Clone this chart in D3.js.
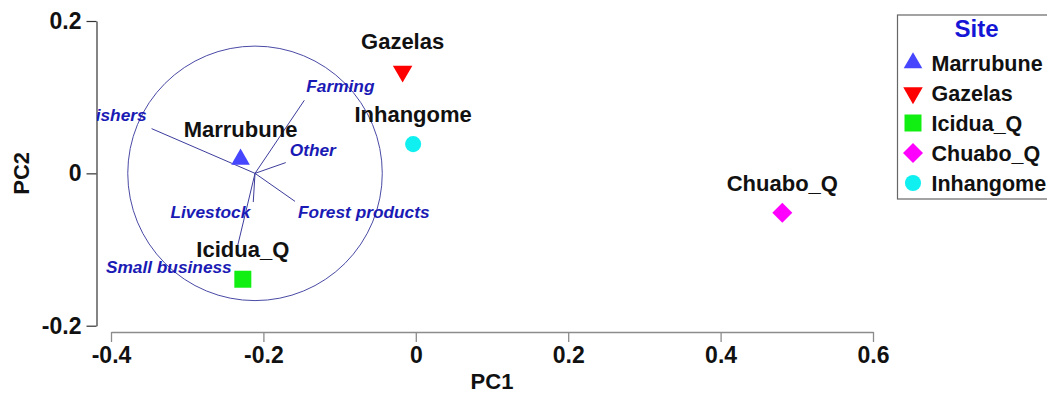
<!DOCTYPE html>
<html>
<head>
<meta charset="utf-8">
<script src="https://cdn.jsdelivr.net/npm/d3@7"></script>
<style>
  body { margin: 0; background: #fff; }
  svg { display: block; font-family: "Liberation Sans", Arial, sans-serif; }
</style>
</head>
<body>
<div id="chart"></div>
<script>
// site scores
const sites = ["Marrubune", "Gazelas", "Icidua_Q", "Chuabo_Q", "Inhangome"];
const sitePC1 = [-0.23, -0.0173, -0.227, 0.481, -0.0035];
const sitePC2 = [0.0184, 0.134, -0.139, -0.0516, 0.0384];

// livelihood vectors, drawn from the circle centre
const variables = ["Fishers", "Farming", "Other", "Forest products", "Livestock", "Small business"];
const loadPC1 = [-0.1357, 0.0647, 0.0403, 0.0525, -0.0023, -0.0227];
const loadPC2 = [0.0587, 0.0959, 0.0141, -0.0368, -0.0377, -0.0946];
const circleCentre = [-0.211, 0];
const circleRadius = 0.167;

const xTicks = [-0.4, -0.2, 0, 0.2, 0.4, 0.6];
const yTicks = [-0.2, 0, 0.2];
const legendTitle = "Site";

class Biplot {
  constructor(mountPoint) {
    this.width = 1047;
    this.height = 394;
    this.markers = {
      Marrubune: { shape: d3.symbolTriangle, size: 150, rotate: 0, color: "#4646ff" },
      Gazelas: { shape: d3.symbolTriangle, size: 165, rotate: 180, color: "#ff0000" },
      Icidua_Q: { shape: d3.symbolSquare, size: 289, rotate: 0, color: "#11ee11" },
      Chuabo_Q: { shape: d3.symbolSquare, size: 200, rotate: 45, color: "#ff00ff" },
      Inhangome: { shape: d3.symbolCircle, size: 205, rotate: 0, color: "#11f0f0" },
    };
    // label placement next to each vector tip: anchor, dx, dy (px)
    this.vectorLabel = {
      Fishers: ["end", -5, -8],
      Farming: ["start", 2, -8],
      Other: ["start", 4, -7],
      "Forest products": ["start", 3, 17],
      Livestock: ["end", -3, 16],
      "Small business": ["end", -6, 28],
    };

    this.svg = d3
      .select(`#${mountPoint}`)
      .append("svg")
      .attr("width", this.width)
      .attr("height", this.height);

    this.x = d3.scaleLinear().domain([-0.4, 0.6]).range([111, 873]);
    this.y = d3.scaleLinear().domain([-0.2, 0.2]).range([325.7, 21]);

    this.drawAxes();
    this.drawVectors();
    this.drawSites();
    this.drawLegend();
  }

  drawAxes() {
    const fmt = (d) => (d === 0 ? "0" : String(d));

    const xAxis = this.svg
      .append("g")
      .attr("transform", "translate(0,332)")
      .call(d3.axisBottom(this.x).tickValues(xTicks).tickFormat(fmt).tickSize(10).tickSizeOuter(0).tickPadding(5));
    xAxis.selectAll("path, line").attr("stroke", "#8c8c8c").attr("stroke-width", 1.3);
    xAxis.selectAll("text").attr("font-size", 23).attr("font-weight", "bold").attr("fill", "#111");

    const yAxis = this.svg
      .append("g")
      .attr("transform", "translate(96.5,0)")
      .call(d3.axisLeft(this.y).tickValues(yTicks).tickFormat(fmt).tickSize(10).tickSizeOuter(0).tickPadding(5));
    yAxis.selectAll("path, line").attr("stroke", "#333").attr("stroke-width", 1.2);
    yAxis.selectAll("text").attr("font-size", 23).attr("font-weight", "bold").attr("fill", "#111");

    this.svg
      .append("text")
      .attr("x", (this.x.range()[0] + this.x.range()[1]) / 2)
      .attr("y", 389)
      .attr("text-anchor", "middle")
      .attr("font-size", 22)
      .attr("font-weight", "bold")
      .attr("fill", "#111")
      .text("PC1");

    this.svg
      .append("text")
      .attr("transform", `translate(29,${(this.y.range()[0] + this.y.range()[1]) / 2}) rotate(-90)`)
      .attr("text-anchor", "middle")
      .attr("font-size", 22)
      .attr("font-weight", "bold")
      .attr("fill", "#111")
      .text("PC2");
  }

  drawVectors() {
    this.svg
      .append("clipPath")
      .attr("id", "plot-clip")
      .append("rect")
      .attr("x", 97)
      .attr("y", 0)
      .attr("width", this.width - 97)
      .attr("height", 332);

    const g = this.svg.append("g").attr("clip-path", "url(#plot-clip)");
    const cx = this.x(circleCentre[0]);
    const cy = this.y(circleCentre[1]);

    g.append("circle")
      .attr("cx", cx)
      .attr("cy", cy)
      .attr("r", this.x(circleRadius) - this.x(0))
      .attr("fill", "none")
      .attr("stroke", "#4a4aa6")
      .attr("stroke-width", 1);

    const vecs = variables.map((name, i) => ({
      name,
      x: this.x(circleCentre[0] + loadPC1[i]),
      y: this.y(circleCentre[1] + loadPC2[i]),
    }));

    g.selectAll("line.vec")
      .data(vecs)
      .join("line")
      .attr("class", "vec")
      .attr("x1", cx)
      .attr("y1", cy)
      .attr("x2", (d) => d.x)
      .attr("y2", (d) => d.y)
      .attr("stroke", "#3c3c9c")
      .attr("stroke-width", 1);

    g.selectAll("text.vec-label")
      .data(vecs)
      .join("text")
      .attr("class", "vec-label")
      .attr("x", (d) => d.x + this.vectorLabel[d.name][1])
      .attr("y", (d) => d.y + this.vectorLabel[d.name][2])
      .attr("text-anchor", (d) => this.vectorLabel[d.name][0])
      .attr("font-size", 17.3)
      .attr("font-style", "italic")
      .attr("font-weight", "bold")
      .attr("fill", "#1a1ab4")
      .text((d) => d.name);
  }

  symbolPath(name) {
    const m = this.markers[name];
    return d3.symbol().type(m.shape).size(m.size)();
  }

  drawSites() {
    const data = sites.map((name, i) => ({ name, px: this.x(sitePC1[i]), py: this.y(sitePC2[i]) }));
    const g = this.svg.append("g");

    g.selectAll("path.site")
      .data(data)
      .join("path")
      .attr("class", "site")
      .attr("d", (d) => this.symbolPath(d.name))
      .attr("transform", (d) => `translate(${d.px},${d.py}) rotate(${this.markers[d.name].rotate})`)
      .attr("fill", (d) => this.markers[d.name].color);

    g.selectAll("text.site-label")
      .data(data)
      .join("text")
      .attr("class", "site-label")
      .attr("x", (d) => d.px)
      .attr("y", (d) => d.py - 22)
      .attr("text-anchor", "middle")
      .attr("font-size", 22)
      .attr("font-weight", "bold")
      .attr("fill", "#111")
      .text((d) => d.name);
  }

  drawLegend() {
    const g = this.svg.append("g").attr("transform", "translate(897.5,15)");

    g.append("rect")
      .attr("x", 0)
      .attr("y", 0)
      .attr("width", 200)
      .attr("height", 184)
      .attr("fill", "#fff")
      .attr("stroke", "#666")
      .attr("stroke-width", 1.2);

    g.append("text")
      .attr("x", 79)
      .attr("y", 22)
      .attr("text-anchor", "middle")
      .attr("font-size", 24)
      .attr("font-weight", "bold")
      .attr("fill", "#1515d6")
      .text(legendTitle);

    const rows = g
      .selectAll("g.row")
      .data(sites)
      .join("g")
      .attr("class", "row")
      .attr("transform", (d, i) => `translate(0,${56 + i * 30})`);

    rows
      .append("path")
      .attr("d", (d) => this.symbolPath(d))
      .attr("transform", (d) => `translate(15.5,-8) rotate(${this.markers[d].rotate})`)
      .attr("fill", (d) => this.markers[d].color);

    rows
      .append("text")
      .attr("x", 34)
      .attr("y", 0)
      .attr("font-size", 21.5)
      .attr("font-weight", "bold")
      .attr("fill", "#111")
      .text((d) => d);
  }
}

new Biplot("chart");
</script>
</body>
</html>
